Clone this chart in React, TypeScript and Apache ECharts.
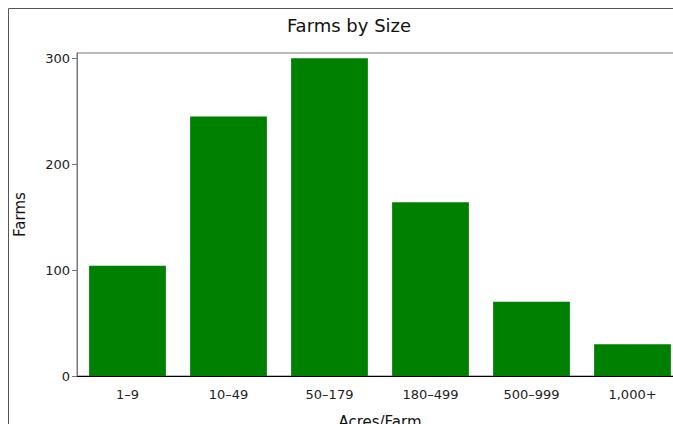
import React, { useEffect, useRef } from "react";
import * as echarts from "echarts";

const categories = ["1–9", "10–49", "50–179", "180–499", "500–999", "1,000+"];
const farms = [104, 245, 300, 164, 70, 30];
const yTicks = [0, 100, 200, 300];

const FONT = "DejaVu Sans";

export default function App() {
  const ref = useRef<HTMLDivElement>(null);
  useEffect(() => {
    document.documentElement.style.overflow = "hidden";
    document.body.style.marginRight = "0px";
    const root = ref.current?.parentElement;
    if (root) root.style.width = "665px";
    if (!ref.current) return;
    const chart = echarts.init(ref.current, undefined, { renderer: "svg" });
    chart.setOption({
      animation: false,
      textStyle: { fontFamily: FONT },
      title: {
        text: "Farms by Size",
        left: 336,
        top: 3,
        textAlign: "center",
        textStyle: { fontFamily: FONT, fontSize: 18, fontWeight: "normal", color: "#111" },
      },
      graphic: [
        {
          type: "rect",
          shape: { x: 0.5, y: 0.5, width: 720, height: 520 },
          style: { fill: "none", stroke: "#555", lineWidth: 1 },
          silent: true,
        },
      ],
      grid: {
        left: 69,
        top: 45,
        width: 606,
        height: 323,
        outerBoundsMode: "none",
        containLabel: false,
        show: true,
        borderColor: "#777",
        borderWidth: 1,
        backgroundColor: "transparent",
      },
      xAxis: {
        type: "category",
        data: categories,
        name: "Acres/Farm",
        nameLocation: "middle",
        nameGap: 38,
        nameTextStyle: { fontFamily: FONT, fontSize: 15, color: "#111" },
        axisLine: { lineStyle: { color: "#000", width: 1 } },
        axisTick: { show: false },
        axisLabel: { fontFamily: FONT, fontSize: 13, color: "#222", margin: 12 },
      },
      yAxis: {
        type: "value",
        min: 0,
        max: 305,
        name: "Farms",
        nameLocation: "middle",
        nameGap: 50,
        nameRotate: 90,
        nameTextStyle: { fontFamily: FONT, fontSize: 15, color: "#111" },
        axisLine: { show: true, lineStyle: { color: "#777", width: 1 } },
        axisTick: { show: true, length: 5, lineStyle: { color: "#777" }, customValues: yTicks },
        axisLabel: { fontFamily: FONT, fontSize: 13, color: "#222", margin: 7, customValues: yTicks },
        splitLine: { show: false },
      },
      series: [
        {
          type: "bar",
          data: farms,
          barCategoryGap: "24%",
          itemStyle: { color: "#008000" },
        },
      ],
    });
    return () => chart.dispose();
  }, []);
  return <div ref={ref} style={{ width: 700, height: 440 }} />;
}
